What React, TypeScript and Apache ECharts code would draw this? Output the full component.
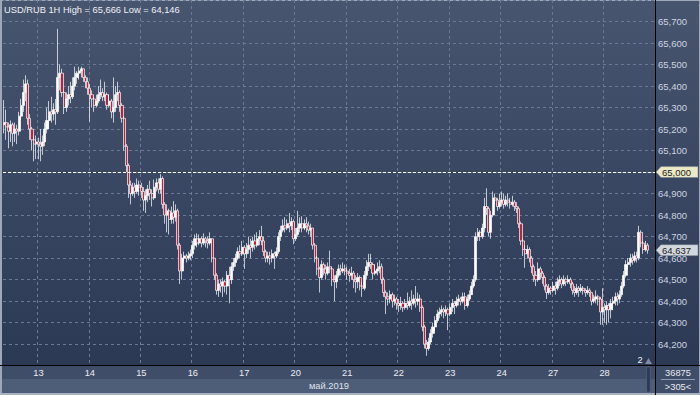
import React, { useEffect, useRef } from 'react';
import * as echarts from 'echarts';

// ---------- data ----------
const titleText = 'USD/RUB 1H High = 65,666 Low = 64,146';
const monthLabel = 'май.2019';
const volumeText = '36875';
const barsText = '>305<';
const pageText = '2';
const refLevel = 65.0;
const lastPrice = 64.637;
const yMin = 64.1;
const yMax = 65.8;
const yStep = 0.1;
const firstOpen = 65.22;
const trailingEmptySlots = 3;

// hourly bars: [close, high, low]; open = previous close
const may12 = [[65.23,65.335,65.18],[65.21,65.29,65.15],[65.19,65.23,65.11],[65.22,65.24,65.14],[65.18,65.23,65.12],[65.2,65.23,65.14],[65.19,65.22,65.13],[65.26,65.28,65.17],[65.31,65.34,65.24],[65.37,65.43,65.28],[65.41,65.45,65.33],[65.25,65.43,65.22],[65.2,65.27,65.15],[65.15,65.21,65.1],[65.13,65.17,65.05],[65.14,65.17,65.06]];
const may13 = [[65.13,65.16,65.06],[65.12,65.2,65.05],[65.14,65.17,65.08],[65.2,65.23,65.12],[65.24,65.3,65.18],[65.28,65.33,65.2],[65.27,65.35,65.23],[65.29,65.32,65.24],[65.28,65.34,65.22],[65.44,65.666,65.27],[65.46,65.5,65.38],[65.37,65.48,65.35],[65.3,65.38,65.27],[65.34,65.37,65.28],[65.36,65.4,65.31],[65.35,65.42,65.32],[65.4,65.44,65.34],[65.44,65.49,65.38],[65.46,65.47,65.41],[65.47,65.49,65.43],[65.48,65.49,65.44],[65.44,65.47,65.42],[65.42,65.45,65.39],[65.39,65.44,65.36]];
const may14 = [[65.36,65.41,65.235],[65.34,65.38,65.3],[65.31,65.35,65.28],[65.33,65.36,65.3],[65.36,65.4,65.32],[65.37,65.43,65.34],[65.35,65.39,65.33],[65.36,65.42,65.33],[65.31,65.37,65.29],[65.33,65.36,65.3],[65.28,65.34,65.25],[65.3,65.44,65.23],[65.36,65.4,65.28],[65.37,65.42,65.33],[65.31,65.38,65.28],[65.25,65.32,65.23],[65.12,65.26,65.1],[65.03,65.13,65.0],[64.94,65.04,64.88],[64.9,64.96,64.85],[64.93,64.95,64.89],[64.91,64.95,64.88],[64.94,64.97,64.9],[64.93,64.96,64.89]];
const may15 = [[64.91,64.95,64.88],[64.87,64.93,64.82],[64.89,64.92,64.81],[64.92,64.94,64.86],[64.9,64.96,64.87],[64.88,64.92,64.84],[64.93,64.965,64.87],[64.95,64.97,64.91],[64.92,64.97,64.9],[64.97,64.99,64.9],[64.85,64.98,64.83],[64.8,64.86,64.76],[64.82,64.85,64.72],[64.78,64.83,64.71],[64.81,64.84,64.76],[64.79,64.865,64.76],[64.82,64.85,64.77],[64.66,64.83,64.64],[64.54,64.67,64.48],[64.6,64.62,64.5],[64.61,64.63,64.58],[64.6,64.62,64.58],[64.61,64.63,64.59],[64.62,64.64,64.59]];
const may16 = [[64.66,64.68,64.6],[64.69,64.71,64.64],[64.67,64.715,64.65],[64.69,64.71,64.66],[64.67,64.7,64.65],[64.69,64.715,64.66],[64.68,64.7,64.65],[64.67,64.7,64.645],[64.69,64.72,64.66],[64.6,64.69,64.58],[64.52,64.6,64.5],[64.45,64.53,64.43],[64.48,64.5,64.42],[64.47,64.5,64.44],[64.49,64.51,64.42],[64.47,64.5,64.44],[64.52,64.54,64.43],[64.5,64.56,64.39],[64.56,64.58,64.48],[64.58,64.6,64.54],[64.6,64.62,64.56],[64.63,64.65,64.59],[64.62,64.66,64.6],[64.65,64.68,64.61]];
const may17 = [[64.62,64.66,64.55],[64.64,64.67,64.6],[64.66,64.7,64.62],[64.65,64.69,64.6],[64.68,64.7,64.63],[64.66,64.71,64.64],[64.69,64.72,64.65],[64.7,64.73,64.66],[64.68,64.75,64.66],[64.63,64.7,64.61],[64.6,64.64,64.58],[64.61,64.63,64.58],[64.6,64.63,64.57],[64.62,64.64,64.58],[64.61,64.63,64.55],[64.63,64.65,64.6],[64.7,64.72,64.62],[64.73,64.75,64.68],[64.75,64.78,64.72],[64.74,64.79,64.72],[64.76,64.78,64.73],[64.75,64.81,64.72],[64.77,64.79,64.73],[64.69,64.78,64.665]];
const may20 = [[64.71,64.74,64.68],[64.74,64.82,64.7],[64.76,64.79,64.72],[64.74,64.795,64.72],[64.76,64.78,64.73],[64.75,64.79,64.72],[64.73,64.77,64.71],[64.74,64.76,64.7],[64.66,64.74,64.64],[64.6,64.67,64.58],[64.55,64.61,64.52],[64.51,64.56,64.44],[64.57,64.59,64.5],[64.55,64.58,64.52],[64.53,64.57,64.5],[64.56,64.58,64.52],[64.55,64.635,64.53],[64.5,64.56,64.47],[64.49,64.52,64.4],[64.52,64.54,64.46],[64.55,64.57,64.51],[64.54,64.57,64.52],[64.55,64.58,64.53],[64.54,64.57,64.52]];
const may21 = [[64.53,64.56,64.5],[64.52,64.55,64.49],[64.53,64.56,64.5],[64.5,64.54,64.46],[64.49,64.52,64.44],[64.51,64.53,64.46],[64.47,64.52,64.45],[64.46,64.49,64.42],[64.52,64.54,64.45],[64.56,64.59,64.5],[64.58,64.62,64.54],[64.57,64.62,64.55],[64.53,64.58,64.5],[64.54,64.57,64.52],[64.55,64.58,64.52],[64.56,64.59,64.53],[64.5,64.575,64.48],[64.44,64.51,64.42],[64.42,64.45,64.34],[64.41,64.44,64.38],[64.43,64.45,64.39],[64.4,64.44,64.37],[64.41,64.43,64.38],[64.39,64.42,64.36]];
const may22 = [[64.38,64.41,64.35],[64.39,64.42,64.36],[64.37,64.4,64.35],[64.39,64.41,64.36],[64.38,64.44,64.36],[64.4,64.42,64.37],[64.39,64.45,64.36],[64.41,64.43,64.38],[64.4,64.47,64.37],[64.41,64.44,64.38],[64.37,64.43,64.35],[64.28,64.38,64.26],[64.2,64.29,64.18],[64.18,64.22,64.146],[64.21,64.23,64.17],[64.25,64.27,64.2],[64.28,64.3,64.23],[64.31,64.33,64.26],[64.34,64.36,64.3],[64.35,64.37,64.32],[64.36,64.38,64.33],[64.35,64.37,64.32],[64.36,64.38,64.33],[64.34,64.37,64.265]];
const may23 = [[64.37,64.39,64.33],[64.39,64.41,64.35],[64.38,64.4,64.34],[64.4,64.42,64.37],[64.41,64.43,64.38],[64.4,64.42,64.38],[64.42,64.44,64.39],[64.38,64.44,64.36],[64.41,64.43,64.37],[64.43,64.45,64.4],[64.47,64.49,64.43],[64.5,64.52,64.46],[64.7,64.72,64.49],[64.72,64.74,64.68],[64.7,64.73,64.68],[64.74,64.76,64.69],[64.84,64.88,64.72],[64.83,64.925,64.8],[64.72,64.84,64.7],[64.8,64.82,64.69],[64.88,64.91,64.79],[64.87,64.9,64.85],[64.84,64.88,64.82],[64.86,64.9,64.83]];
const may24 = [[64.87,64.91,64.84],[64.85,64.9,64.83],[64.87,64.89,64.84],[64.86,64.9,64.84],[64.85,64.88,64.83],[64.86,64.89,64.84],[64.84,64.87,64.82],[64.83,64.86,64.81],[64.76,64.84,64.74],[64.68,64.77,64.66],[64.64,64.69,64.61],[64.62,64.66,64.555],[64.64,64.66,64.6],[64.6,64.65,64.58],[64.56,64.61,64.53],[64.52,64.57,64.49],[64.5,64.54,64.47],[64.55,64.58,64.49],[64.53,64.56,64.5],[64.51,64.54,64.48],[64.47,64.52,64.45],[64.44,64.48,64.41],[64.46,64.48,64.43],[64.45,64.47,64.43]];
const may27 = [[64.47,64.49,64.44],[64.46,64.49,64.43],[64.49,64.51,64.45],[64.5,64.52,64.47],[64.48,64.51,64.46],[64.5,64.52,64.47],[64.49,64.51,64.47],[64.5,64.52,64.48],[64.48,64.51,64.46],[64.45,64.49,64.43],[64.44,64.47,64.42],[64.46,64.48,64.43],[64.45,64.47,64.42],[64.46,64.48,64.44],[64.45,64.47,64.43],[64.44,64.46,64.42],[64.45,64.47,64.43],[64.44,64.46,64.42],[64.4,64.44,64.38],[64.41,64.43,64.39],[64.42,64.45,64.39],[64.41,64.43,64.38],[64.35,64.42,64.29],[64.37,64.46,64.29]];
const may28 = [[64.36,64.39,64.3],[64.38,64.4,64.29],[64.36,64.39,64.3],[64.39,64.41,64.32],[64.4,64.42,64.36],[64.42,64.44,64.38],[64.41,64.44,64.38],[64.43,64.45,64.39],[64.47,64.49,64.42],[64.52,64.54,64.46],[64.57,64.59,64.51],[64.58,64.6,64.55],[64.6,64.62,64.56],[64.59,64.62,64.57],[64.61,64.63,64.58],[64.6,64.63,64.58],[64.72,64.75,64.59],[64.67,64.73,64.65],[64.64,64.68,64.62],[64.66,64.68,64.63],[64.637,64.67,64.62]];

const dayNames = ['12', '13', '14', '15', '16', '17', '20', '21', '22', '23', '24', '27', '28'];
const dayBars = [may12, may13, may14, may15, may16, may17, may20, may21, may22, may23, may24, may27, may28];
const barsPerDay = 24;

// ---------- build ----------
const categories: string[] = [];
const ohlc: number[][] = [];
let prevClose = firstOpen;
dayBars.forEach((bars, d) => {
  const startHour = d === 0 ? barsPerDay - bars.length : 0;
  bars.forEach((b, k) => {
    const [c, h, l] = b;
    categories.push(dayNames[d] + '|' + (startHour + k));
    ohlc.push([prevClose, c, Math.min(l, prevClose, c), Math.max(h, prevClose, c)]);
    prevClose = c;
  });
});
const lastDay = dayNames[dayNames.length - 1];
const lastDayCount = dayBars[dayBars.length - 1].length;
for (let i = 0; i < trailingEmptySlots; i++) categories.push(lastDay + '|' + (lastDayCount + i));

const isDayStart = (_idx: number, v: string) => v.endsWith('|0');
const fmtNum = (v: number) => v.toFixed(3).replace('.', ',');

const FONT = 'Liberation Sans, Arial, sans-serif';
const GRID_LEFT = 3;
const GRID_RIGHT = 45;
const AXIS_X = 655.5;
const AXIS_Y = 365.5;

export default function App() {
  const ref = useRef<HTMLDivElement>(null);
  useEffect(() => {
    if (!ref.current) return;
    const chart = echarts.init(ref.current, undefined, { renderer: 'svg' });
    chart.setOption({
      animation: false,
      grid: { left: GRID_LEFT, right: GRID_RIGHT, top: -2.67, bottom: 29.33, containLabel: false },
      xAxis: {
        type: 'category',
        data: categories,
        boundaryGap: true,
        axisLine: { show: false },
        axisTick: { show: false },
        axisLabel: {
          interval: isDayStart,
          formatter: (v: string) => v.split('|')[0],
          color: '#eceef2',
          fontSize: 9.3,
          fontFamily: FONT,
          margin: 3,
        },
        splitLine: { show: true, interval: isDayStart, lineStyle: { color: '#6a7994', type: [3, 3], width: 1 } },
      },
      yAxis: {
        type: 'value',
        position: 'right',
        min: yMin,
        max: yMax,
        interval: yStep,
        axisLine: { show: false },
        axisTick: { show: false },
        axisLabel: {
          margin: 3,
          color: '#ccd4e0',
          fontSize: 9.5,
          fontFamily: FONT,
          formatter: (v: number) =>
            v < yMin + yStep / 2 || v > yMax - yStep / 2 || Math.abs(v - refLevel) < 1e-6 ? '' : fmtNum(v),
        },
        splitLine: { show: true, lineStyle: { color: '#6a7994', type: [3, 3], width: 1 } },
      },
      series: [
        {
          type: 'candlestick',
          data: ohlc,
          barWidth: 2.6,
          itemStyle: {
            color: '#ffffff',
            color0: '#b8243f',
            borderColor: '#ffffff',
            borderColor0: '#ffffff',
            borderWidth: 0.7,
          },
          markLine: {
            silent: true,
            symbol: 'none',
            label: { show: false },
            lineStyle: { color: '#ffffff', type: [3, 2], width: 1 },
            data: [{ yAxis: refLevel }],
          },
        },
      ],
    });

    const refY = chart.convertToPixel({ yAxisIndex: 0 }, refLevel) as number;
    const lastY = chart.convertToPixel({ yAxisIndex: 0 }, lastPrice) as number;
    const tag = (y: number, fill: string, text: string, id: string) => [
      {
        type: 'polygon',
        id: id + 'Box',
        z: 100,
        shape: { points: [[656, y], [661, y - 5.5], [698, y - 5.5], [698, y + 5.5], [661, y + 5.5]] },
        style: { fill, stroke: '#6f7888', lineWidth: 0.5 },
      },
      {
        type: 'text',
        id: id + 'Txt',
        z: 101,
        x: 662,
        y,
        style: { text, fill: '#1c1c1c', font: '9.5px ' + FONT, textVerticalAlign: 'middle', verticalAlign: 'middle' },
      },
    ];

    chart.setOption({
      graphic: [
        { type: 'line', z: 90, shape: { x1: AXIS_X, y1: 0, x2: AXIS_X, y2: 395 }, style: { stroke: '#000000', lineWidth: 1 } },
        { type: 'line', z: 90, shape: { x1: 0, y1: AXIS_Y, x2: 700, y2: AXIS_Y }, style: { stroke: '#000000', lineWidth: 1 } },
        { type: 'line', z: 90, shape: { x1: 661, y1: 379.5, x2: 695, y2: 379.5 }, style: { stroke: '#8f9bb0', lineWidth: 1 } },
        { type: 'rect', z: 90, shape: { x: 646.5, y: 367, width: 4, height: 25 }, style: { fill: '#2f3c55', stroke: '#5d6b84', lineWidth: 0.5 } },
        { type: 'polygon', z: 90, shape: { points: [[645, 364], [648.5, 358], [652, 364]] }, style: { fill: '#7f8aa0' } },
        {
          type: 'text', z: 95, x: 4, y: 10,
          style: { text: titleText, fill: '#eef1f5', font: '9.3px ' + FONT, verticalAlign: 'middle', textVerticalAlign: 'middle' },
        },
        {
          type: 'text', z: 95, x: 349, y: 386,
          style: { text: monthLabel, fill: '#dfe3ea', font: '9.3px ' + FONT, align: 'right', textAlign: 'right', verticalAlign: 'middle', textVerticalAlign: 'middle' },
        },
        {
          type: 'text', z: 95, x: 678, y: 373,
          style: { text: volumeText, fill: '#e6e9ee', font: '9.3px ' + FONT, align: 'center', textAlign: 'center', verticalAlign: 'middle', textVerticalAlign: 'middle' },
        },
        {
          type: 'text', z: 95, x: 678, y: 387,
          style: { text: barsText, fill: '#e6e9ee', font: '9.3px ' + FONT, align: 'center', textAlign: 'center', verticalAlign: 'middle', textVerticalAlign: 'middle' },
        },
        {
          type: 'text', z: 95, x: 640, y: 360,
          style: { text: pageText, fill: '#eef1f5', font: '9.3px ' + FONT, align: 'center', textAlign: 'center', verticalAlign: 'middle', textVerticalAlign: 'middle' },
        },
        ...tag(refY, '#ece9c6', fmtNum(refLevel), 'ref'),
        ...tag(lastY, '#d2d6dd', fmtNum(lastPrice), 'last'),
      ],
    });
    return () => chart.dispose();
  }, []);

  const abs = { position: 'absolute' as const };
  return (
    <div style={{ position: 'fixed', left: 0, top: 0, width: 700, height: 395, overflow: 'hidden', background: '#3f4d68' }}>
      <div style={{ ...abs, left: 0, top: 0, width: 700, height: 366, background: 'linear-gradient(180deg, #48556f 0%, #2b3955 100%)' }} />
      <div style={{ ...abs, left: 0, top: 379, width: 655, height: 14, background: '#4e5d78' }} />
      <div style={{ ...abs, left: 0, top: 0, width: 700, height: 1, background: '#9ea8b8' }} />
      <div style={{ ...abs, left: 0, top: 0, width: 2, height: 395, background: '#9ea8b8' }} />
      <div style={{ ...abs, left: 0, top: 393, width: 700, height: 2, background: '#aab2be' }} />
      <div style={{ ...abs, left: 699, top: 0, width: 1, height: 395, background: '#9ea8b8' }} />
      <div ref={ref} style={{ ...abs, left: 0, top: 0, width: 700, height: 395 }} />
    </div>
  );
}
